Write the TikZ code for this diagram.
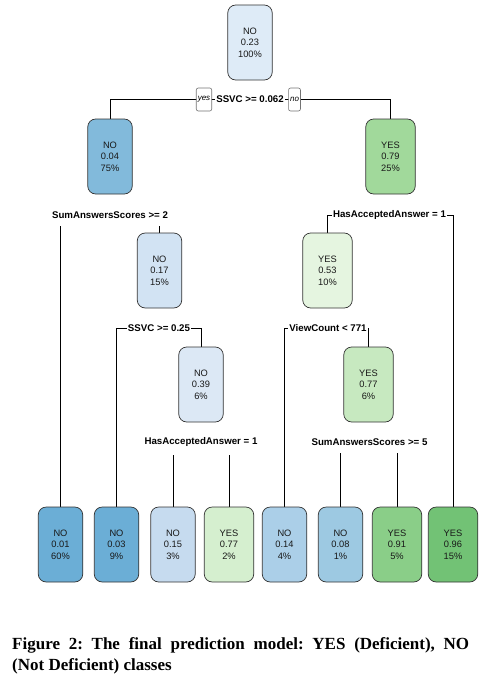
\documentclass[tikz,border=0pt]{standalone}
\usepackage{fontspec}
\setmainfont{Liberation Serif}
\setsansfont{Liberation Sans}
\usetikzlibrary{backgrounds}
\definecolor{cRoot}{HTML}{DEEBF7}
\definecolor{cA}{HTML}{82BADB}
\definecolor{cB}{HTML}{A1D99B}
\definecolor{cC}{HTML}{D2E3F3}
\definecolor{cD}{HTML}{E5F5E0}
\definecolor{cE}{HTML}{DCE8F5}
\definecolor{cF}{HTML}{C7E9C0}
\definecolor{cL1}{HTML}{6BAED6}
\definecolor{cL2}{HTML}{6BAED6}
\definecolor{cL3}{HTML}{C6DBEF}
\definecolor{cL4}{HTML}{D5EFCF}
\definecolor{cL5}{HTML}{ABCFE8}
\definecolor{cL6}{HTML}{9DC9E2}
\definecolor{cL7}{HTML}{8ACE88}
\definecolor{cL8}{HTML}{72C275}
\begin{document}
\begin{tikzpicture}[x=1pt,y=-1pt,
  box/.style={draw=black!80, line width=0.7pt, rounded corners=8pt, minimum height=75pt, inner sep=0pt, align=center, font=\sffamily\fontsize{9.3}{11.7}\selectfont, text=black!90},
  nobox/.style={box, minimum width=44.5pt},
  yesbox/.style={box, minimum width=49.5pt},
  split/.style={fill=white, inner xsep=1pt, inner ysep=8pt, font=\sffamily\bfseries\fontsize{9.7}{11}\selectfont},
  yn/.style={draw=black!55, fill=white, line width=0.6pt, rounded corners=2pt, inner xsep=1.5pt, inner ysep=0pt, minimum height=23pt, font=\sffamily\itshape\fontsize{8}{9}\selectfont},
  conn/.style={line width=0.7pt, black}]
\useasboundingbox (0,0) rectangle (496,685);
% inner nodes
\node[nobox, fill=cRoot] (root) at (250,42.5) {NO\\0.23\\100\%};
\node[nobox, fill=cA] (n2) at (110,156.5) {NO\\0.04\\75\%};
\node[yesbox, fill=cB] (n3) at (390.5,156.5) {YES\\0.79\\25\%};
\node[nobox, fill=cC] (n5) at (159.5,270.5) {NO\\0.17\\15\%};
\node[yesbox, fill=cD] (n6) at (327.5,270.5) {YES\\0.53\\10\%};
\node[nobox, fill=cE] (n11) at (201,384.5) {NO\\0.39\\6\%};
\node[yesbox, fill=cF] (n13) at (368.5,384.5) {YES\\0.77\\6\%};
% leaves
\node[nobox, fill=cL1] (l1) at (60.5,544.5) {NO\\0.01\\60\%};
\node[nobox, fill=cL2] (l2) at (116.5,544.5) {NO\\0.03\\9\%};
\node[nobox, fill=cL3] (l3) at (173,544.5) {NO\\0.15\\3\%};
\node[yesbox, fill=cL4] (l4) at (229,544.5) {YES\\0.77\\2\%};
\node[nobox, fill=cL5] (l5) at (284.5,544.5) {NO\\0.14\\4\%};
\node[nobox, fill=cL6] (l6) at (340.5,544.5) {NO\\0.08\\1\%};
\node[yesbox, fill=cL7] (l7) at (397,544.5) {YES\\0.91\\5\%};
\node[yesbox, fill=cL8] (l8) at (453,544.5) {YES\\0.96\\15\%};
% split labels
\node[split] (s0) at (250,99) {SSVC >= 0.062};
\node[split] (s1) at (110,215) {SumAnswersScores >= 2};
\node[split] (s2) at (389.5,215) {HasAcceptedAnswer = 1};
\node[split] (s3) at (159,328) {SSVC >= 0.25};
\node[split] (s4) at (328,328) {ViewCount < 771};
\node[split] (s5) at (201,442) {HasAcceptedAnswer = 1};
\node[split] (s6) at (369.5,442) {SumAnswersScores >= 5};
\node[yn] (yes) at (204,99.5) {yes};
\node[yn] (no) at (294.5,99.5) {no};
% connectors
\begin{pgfonlayer}{background}
\draw[conn] (s0.center) -| (n2.north);
\draw[conn] (s0.center) -| (n3.north);
\draw[conn] (s1.center) -| (l1.north);
\draw[conn] (s1.center) -| (n5.north);
\draw[conn] (s2.center) -| (n6.north);
\draw[conn] (s2.center) -| (l8.north);
\draw[conn] (s3.center) -| (l2.north);
\draw[conn] (s3.center) -| (n11.north);
\draw[conn] (s4.center) -| (l5.north);
\draw[conn] (s4.center) -| (n13.north);
\draw[conn] (s5.center) -| (l3.north);
\draw[conn] (s5.center) -| (l4.north);
\draw[conn] (s6.center) -| (l6.north);
\draw[conn] (s6.center) -| (l7.north);
\end{pgfonlayer}
% caption
\node[anchor=north west, inner sep=0pt, text width=457pt, align=justify,
  font=\rmfamily\bfseries\fontsize{17}{21}\selectfont] (cap) at (12,637)
  {\frenchspacing\hyphenpenalty=10000 Figure 2: The final prediction model: YES (Deficient), NO\linebreak (Not Deficient) classes};
\end{tikzpicture}
\end{document}
